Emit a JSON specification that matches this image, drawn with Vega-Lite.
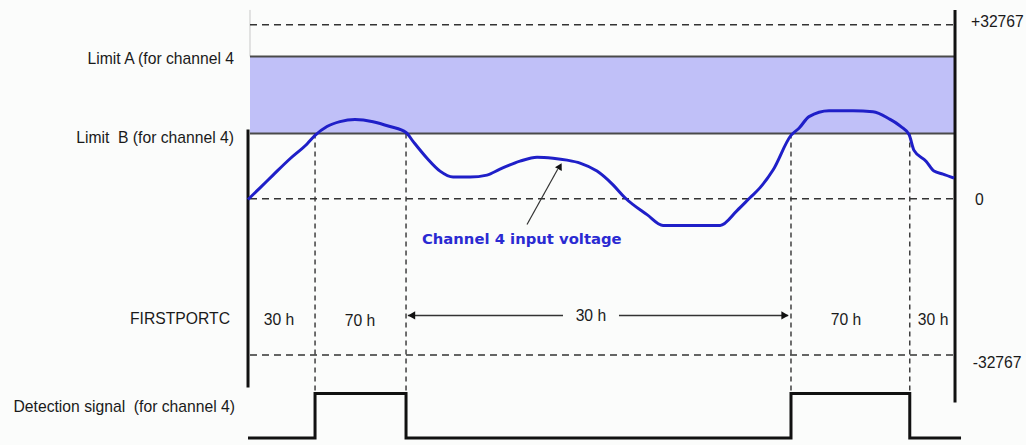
{
  "$schema": "https://vega.github.io/schema/vega-lite/v6.json",
  "width": 1026,
  "height": 445,
  "autosize": {"type": "fit", "contains": "padding"},
  "padding": 0,
  "background": "#fbfcfb",
  "config": {"view": {"stroke": null}},
  "encoding": {
    "x": {"field": "t", "type": "quantitative", "axis": null, "scale": {"domain": [-35.08, 110.04], "nice": false, "zero": false}},
    "y": {"field": "v", "type": "quantitative", "axis": null, "scale": {"domain": [-138.6, 114.2], "nice": false, "zero": false}}
  },
  "layer": [
    {
      "data": {"values": [{"t": 0.28, "t2": 100, "v": 37.5, "v2": 81.8}]},
      "mark": {"type": "rect", "color": "#c0c0f8", "clip": false},
      "encoding": {"x2": {"field": "t2"}, "y2": {"field": "v2"}}
    },
    {
      "data": {"values": [{"t": 0.28, "v": 108.5, "v2": 81.8}]},
      "mark": {"type": "rule", "color": "#c8c8c8", "strokeWidth": 1},
      "encoding": {"y2": {"field": "v2"}}
    },
    {
      "data": {"values": [
        {"name": "Limit A", "t": 0.28, "t2": 100, "v": 81.8},
        {"name": "Limit B", "t": 0.28, "t2": 100, "v": 37.5}
      ]},
      "mark": {"type": "rule", "color": "#4a4a4a", "strokeWidth": 2},
      "encoding": {"x2": {"field": "t2"}}
    },
    {
      "data": {"values": [
        {"name": "+32767", "t": 0.28, "t2": 100, "v": 100},
        {"name": "0", "t": 0.28, "t2": 100, "v": 0},
        {"name": "-32767", "t": 0.28, "t2": 100, "v": -89.8}
      ]},
      "mark": {"type": "rule", "color": "#333333", "strokeWidth": 1.4, "strokeDash": [7, 5]},
      "encoding": {"x2": {"field": "t2"}}
    },
    {
      "data": {"values": [
        {"t": 9.48, "v": 37.5, "v2": -111.9},
        {"t": 22.35, "v": 37.5, "v2": -111.9},
        {"t": 76.8, "v": 37.5, "v2": -111.9},
        {"t": 93.6, "v": 37.5, "v2": -111.9}
      ]},
      "mark": {"type": "rule", "color": "#333333", "strokeWidth": 1.4, "strokeDash": [5, 4]},
      "encoding": {"y2": {"field": "v2"}}
    },
    {
      "data": {"values": [
        {"t": 0, "v": 39.8, "v2": -108.5},
        {"t": 100, "v": 108.5, "v2": -117.0}
      ]},
      "mark": {"type": "rule", "color": "#111111", "strokeWidth": 3},
      "encoding": {"y2": {"field": "v2"}}
    },
    {
      "data": {"values": [
        {"t": 0, "v": -0.4}, {"t": 1.7, "v": 6.25}, {"t": 3.54, "v": 13.6}, {"t": 5.94, "v": 23.0},
        {"t": 8.35, "v": 31.5}, {"t": 9.48, "v": 36.4}, {"t": 11.17, "v": 41.5}, {"t": 13.01, "v": 44.3},
        {"t": 15.13, "v": 45.5}, {"t": 17.68, "v": 44.3}, {"t": 20.08, "v": 41.5}, {"t": 22.35, "v": 38.1},
        {"t": 23.34, "v": 33.0}, {"t": 25.32, "v": 23.3}, {"t": 27.16, "v": 15.9}, {"t": 29.0, "v": 12.5},
        {"t": 31.4, "v": 12.5}, {"t": 33.8, "v": 13.6}, {"t": 35.64, "v": 17.0}, {"t": 38.47, "v": 21.6},
        {"t": 40.88, "v": 23.9}, {"t": 43.14, "v": 23.3}, {"t": 45.12, "v": 22.2}, {"t": 46.96, "v": 20.5},
        {"t": 49.36, "v": 15.9}, {"t": 51.63, "v": 8.0}, {"t": 53.32, "v": 0.6}, {"t": 56.44, "v": -9.1},
        {"t": 58.7, "v": -15.3}, {"t": 62.52, "v": -15.3}, {"t": 66.78, "v": -15.3}, {"t": 69.17, "v": -6.8},
        {"t": 71.0, "v": 0.6}, {"t": 72.4, "v": 6.25}, {"t": 74.26, "v": 16.5}, {"t": 76.8, "v": 36.4},
        {"t": 77.93, "v": 40.5}, {"t": 79.35, "v": 47.2}, {"t": 82.18, "v": 50.6}, {"t": 85.57, "v": 50.6},
        {"t": 88.4, "v": 50.0}, {"t": 90.66, "v": 46.0}, {"t": 92.36, "v": 41.5}, {"t": 93.5, "v": 36.9},
        {"t": 94.2, "v": 27.8}, {"t": 95.9, "v": 21.6}, {"t": 97.03, "v": 15.9}, {"t": 98.3, "v": 14.2},
        {"t": 99.86, "v": 11.9}
      ]},
      "mark": {"type": "line", "color": "#1f1fc8", "strokeWidth": 3, "interpolate": "monotone", "clip": false},
      "encoding": {"order": {"field": "t", "type": "quantitative"}}
    },
    {
      "data": {"values": [
        {"i": 0, "t": 0, "v": -137.5}, {"i": 1, "t": 9.48, "v": -137.5}, {"i": 2, "t": 9.48, "v": -111.9},
        {"i": 3, "t": 22.35, "v": -111.9}, {"i": 4, "t": 22.35, "v": -137.5}, {"i": 5, "t": 76.8, "v": -137.5},
        {"i": 6, "t": 76.8, "v": -111.9}, {"i": 7, "t": 93.6, "v": -111.9}, {"i": 8, "t": 93.6, "v": -137.5},
        {"i": 9, "t": 100.85, "v": -137.5}
      ]},
      "mark": {"type": "line", "color": "#111111", "strokeWidth": 3, "clip": false},
      "encoding": {"order": {"field": "i", "type": "quantitative"}}
    },
    {
      "data": {"values": [
        {"t": 22.6, "t2": 44.55, "v": -67.0},
        {"t": 52.47, "t2": 76.4, "v": -67.0}
      ]},
      "mark": {"type": "rule", "color": "#333333", "strokeWidth": 1.5},
      "encoding": {"x2": {"field": "t2"}}
    },
    {
      "data": {"values": [
        {"t": 23.13, "v": -67.0, "shape": "triangle-left"},
        {"t": 75.95, "v": -67.0, "shape": "triangle-right"}
      ]},
      "mark": {"type": "point", "filled": true, "color": "#111111", "size": 70, "opacity": 1},
      "encoding": {"shape": {"field": "shape", "type": "nominal", "scale": null, "legend": null}}
    },
    {
      "data": {"values": [{"t": 39.46, "v": -14.8, "t2": 43.8, "v2": 17.0}]},
      "mark": {"type": "rule", "color": "#333333", "strokeWidth": 1.2},
      "encoding": {"x2": {"field": "t2"}, "y2": {"field": "v2"}}
    },
    {
      "data": {"values": [{"t": 44.13, "v": 18.75}]},
      "mark": {"type": "point", "shape": "triangle-up", "filled": true, "color": "#111111", "size": 60, "angle": 29, "opacity": 1}
    },
    {
      "data": {"values": [
        {"label": "Limit A (for channel 4", "t": -1.98, "v": 80.1},
        {"label": "Limit\u00a0 B (for channel 4)", "t": -1.98, "v": 35.2},
        {"label": "FIRSTPORTC", "t": -2.55, "v": -69.3},
        {"label": "Detection signal\u00a0 (for channel 4)", "t": -1.84, "v": -119.9}
      ]},
      "mark": {"type": "text", "align": "right", "baseline": "middle", "font": "Liberation Sans", "fontSize": 15.7, "color": "#1a1a1a"},
      "encoding": {"text": {"field": "label"}}
    },
    {
      "data": {"values": [
        {"label": "+32767", "t": 102.26, "v": 101.7},
        {"label": "0", "t": 102.83, "v": -0.6},
        {"label": "-32767", "t": 102.5, "v": -94.3}
      ]},
      "mark": {"type": "text", "align": "left", "baseline": "middle", "font": "Liberation Sans", "fontSize": 15.7, "color": "#1a1a1a"},
      "encoding": {"text": {"field": "label"}}
    },
    {
      "data": {"values": [
        {"label": "30 h", "t": 4.38, "v": -69.9},
        {"label": "70 h", "t": 15.84, "v": -70.5},
        {"label": "30 h", "t": 48.5, "v": -67.6},
        {"label": "70 h", "t": 84.58, "v": -69.9},
        {"label": "30 h", "t": 96.9, "v": -69.9}
      ]},
      "mark": {"type": "text", "align": "center", "baseline": "middle", "font": "Liberation Sans", "fontSize": 15.7, "color": "#1a1a1a"},
      "encoding": {"text": {"field": "label"}}
    },
    {
      "data": {"values": [{"label": "Channel 4 input voltage", "t": 24.6, "v": -23.9}]},
      "mark": {"type": "text", "align": "left", "baseline": "middle", "font": "DejaVu Sans", "fontWeight": "bold", "fontSize": 14.8, "color": "#2a2ad2"},
      "encoding": {"text": {"field": "label"}}
    }
  ]
}
